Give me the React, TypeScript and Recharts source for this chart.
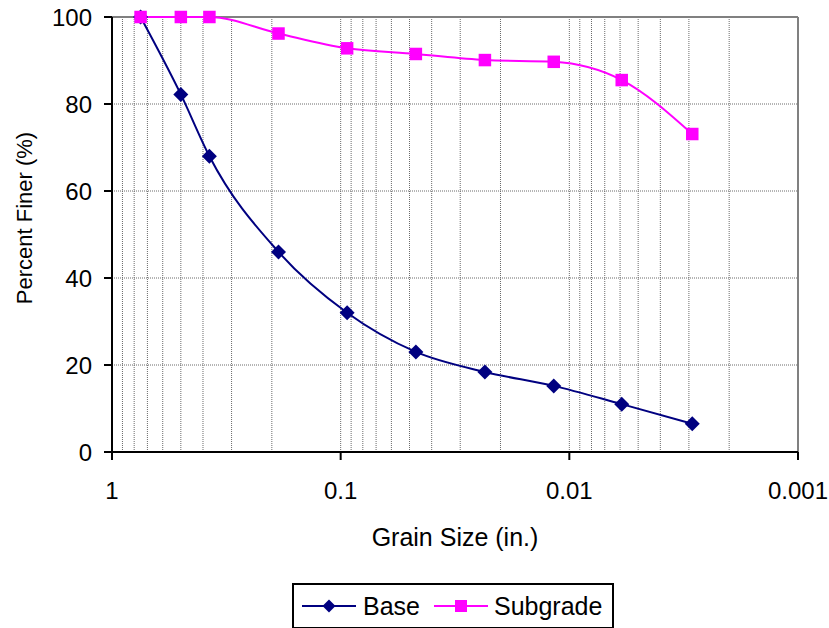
import React from "react";
import {
  LineChart,
  Line,
  XAxis,
  YAxis,
  CartesianGrid,
  ReferenceLine,
  Legend,
  Label,
} from "recharts";

// sieve sizes (in.) and percent passing
const grainSize = [0.75, 0.5, 0.375, 0.187, 0.0937, 0.0469, 0.0234, 0.0117, 0.0059, 0.0029];
const basePassing = [100, 82.2, 68, 46, 32, 23, 18.4, 15.2, 11, 6.5];
const subgradePassing = [100, 100, 100, 96.2, 92.8, 91.5, 90.1, 89.7, 85.5, 73.1];

const xTicks = [1, 0.1, 0.01, 0.001];
const yTicks = [0, 20, 40, 60, 80, 100];
const decades = [0.1, 0.01, 0.001];
const steps = [1, 2, 3, 4, 5, 6, 7, 8, 9];

const NAVY = "#000080";
const MAGENTA = "#FF00FF";
const GRID = "#6a6a6a";
const FONT = "'Liberation Sans', Arial, sans-serif";

const data = grainSize.map((size, i) => ({
  size,
  base: basePassing[i],
  subgrade: subgradePassing[i],
}));

// minor log grid lines (0.9 ... 0.002), the 1 and 0.001 lines are the frame
const gridX = decades
  .flatMap((d) => steps.map((s) => d * s))
  .filter((v) => v > 0.0011 && v < 0.99);

const Diamond = (props: any) => {
  const { cx, cy } = props;
  if (cx == null || cy == null) return null;
  const r = 7.5;
  return (
    <polygon
      points={`${cx},${cy - r} ${cx + r},${cy} ${cx},${cy + r} ${cx - r},${cy}`}
      fill={NAVY}
    />
  );
};

const Square = (props: any) => {
  const { cx, cy } = props;
  if (cx == null || cy == null) return null;
  const s = 12.5;
  return <rect x={cx - s / 2} y={cy - s / 2} width={s} height={s} fill={MAGENTA} />;
};

const LegendIcon = ({ color, shape }: { color: string; shape: "diamond" | "square" }) => (
  <svg width={54} height={20} style={{ display: "block" }}>
    <line x1={0} y1={10} x2={54} y2={10} stroke={color} strokeWidth={2} />
    {shape === "diamond" ? (
      <polygon points="27,3.5 33.5,10 27,16.5 20.5,10" fill={color} />
    ) : (
      <rect x={21} y={4} width={12} height={12} fill={color} />
    )}
  </svg>
);

const LegendBox = () => (
  <div
    style={{
      boxSizing: "border-box",
      width: 322,
      height: 46,
      border: "2px solid #000",
      display: "flex",
      alignItems: "center",
      paddingLeft: 8,
      fontFamily: FONT,
      fontSize: 25,
      color: "#000",
      background: "#fff",
    }}
  >
    <LegendIcon color={NAVY} shape="diamond" />
    <span style={{ marginLeft: 7 }}>Base</span>
    <span style={{ marginLeft: 14 }}>
      <LegendIcon color={MAGENTA} shape="square" />
    </span>
    <span style={{ marginLeft: 6 }}>Subgrade</span>
  </div>
);

export default function App() {
  return (
    <div style={{ position: "absolute", left: 0, top: 0, background: "#fff" }}>
      <LineChart
        width={829}
        height={628}
        data={data}
        margin={{ top: 17, right: 31, left: 0, bottom: 0 }}
      >
        <CartesianGrid vertical={false} stroke={GRID} strokeDasharray="1 1" />
        {gridX.map((v) => (
          <ReferenceLine
            key={v}
            x={v}
            stroke={GRID}
            strokeDasharray="1 1"
            strokeWidth={1}
          />
        ))}
        <ReferenceLine y={100} stroke="#808080" strokeWidth={2} />
        <ReferenceLine x={0.001} stroke="#808080" strokeWidth={2} />
        <XAxis
          dataKey="size"
          type="number"
          scale="log"
          domain={[0.001, 1]}
          reversed
          ticks={xTicks}
          tickFormatter={(v) => String(v)}
          height={176}
          tickSize={8}
          tickMargin={22}
          axisLine={{ stroke: "#000", strokeWidth: 2 }}
          tickLine={{ stroke: "#000", strokeWidth: 2 }}
          tick={{ fill: "#000", fontSize: 24, fontFamily: FONT }}
          allowDataOverflow
        >
          <Label
            content={() => (
              <text
                x={455}
                y={546}
                textAnchor="middle"
                fill="#000"
                fontSize={25}
                fontFamily={FONT}
              >
                Grain Size (in.)
              </text>
            )}
          />
        </XAxis>
        <YAxis
          type="number"
          domain={[0, 100]}
          ticks={yTicks}
          width={112}
          tickSize={8}
          tickMargin={12}
          axisLine={{ stroke: "#000", strokeWidth: 2 }}
          tickLine={{ stroke: "#000", strokeWidth: 2 }}
          tick={{ fill: "#000", fontSize: 24, fontFamily: FONT }}
        >
          <Label
            content={() => (
              <text
                x={32}
                y={218}
                transform="rotate(-90 32 218)"
                textAnchor="middle"
                fill="#000"
                fontSize={22}
                fontFamily={FONT}
              >
                Percent Finer (%)
              </text>
            )}
          />
        </YAxis>
        <Line
          dataKey="base"
          name="Base"
          type="monotone"
          stroke={NAVY}
          strokeWidth={2}
          dot={<Diamond />}
          activeDot={false}
          isAnimationActive={false}
        />
        <Line
          dataKey="subgrade"
          name="Subgrade"
          type="monotone"
          stroke={MAGENTA}
          strokeWidth={2}
          dot={<Square />}
          activeDot={false}
          isAnimationActive={false}
        />
        <Legend
          layout="horizontal"
          verticalAlign="middle"
          align="center"
          wrapperStyle={{ top: 583, left: 292, width: 322, height: 46 }}
          content={() => <LegendBox />}
        />
      </LineChart>
    </div>
  );
}
